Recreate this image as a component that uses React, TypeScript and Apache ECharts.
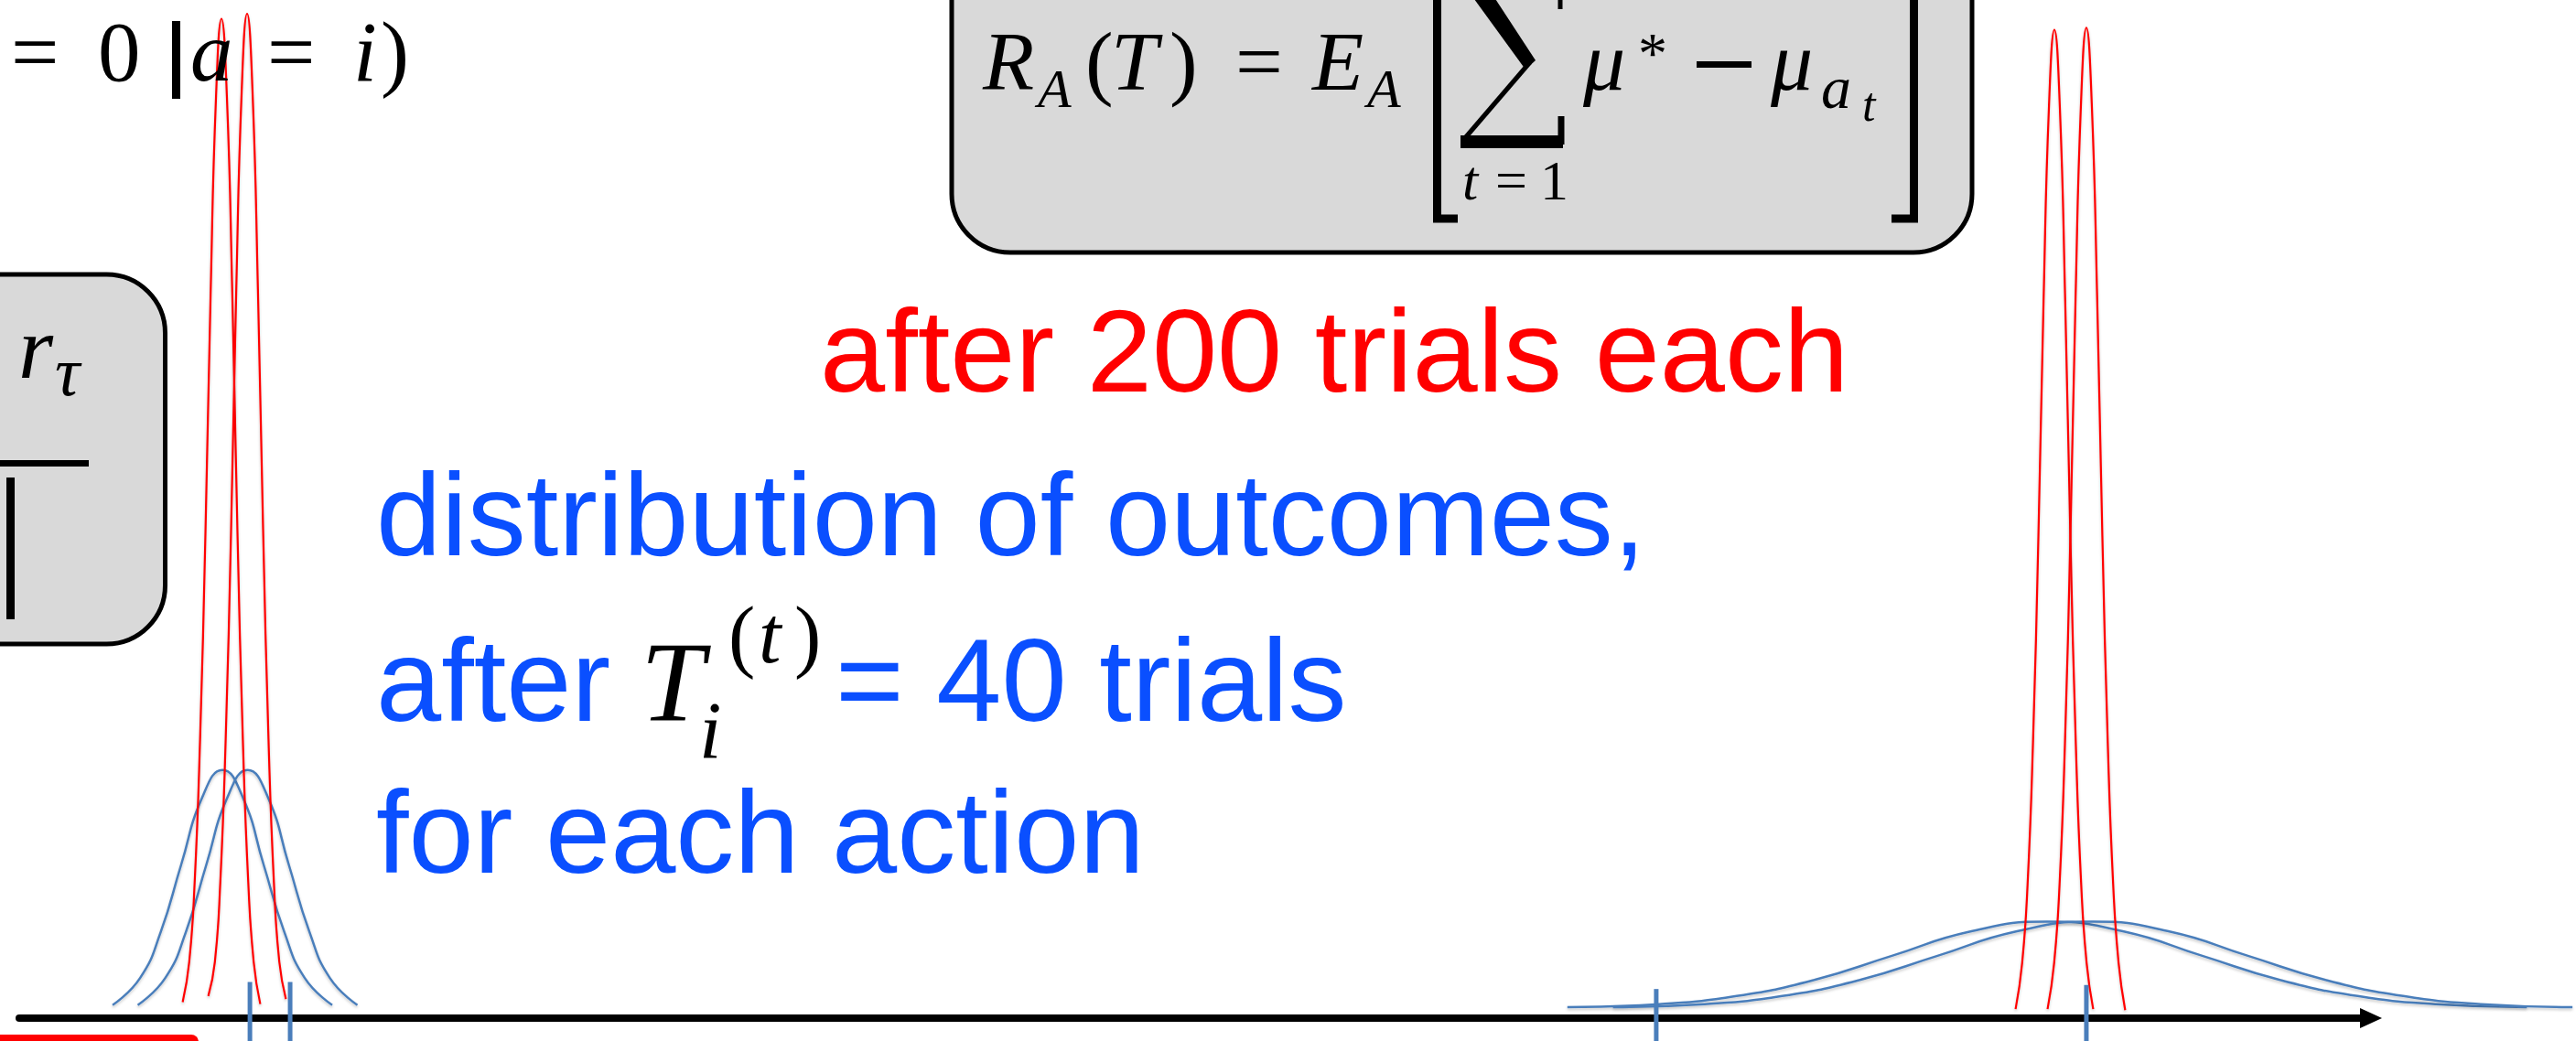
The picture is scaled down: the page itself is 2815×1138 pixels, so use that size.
import React, { useEffect, useRef } from "react";
import * as echarts from "echarts";

const WIDTH = 2815;
const HEIGHT = 1138;

// x: outcome scale (0..100 along the arrow), y: relative density (0..1)
// left pair, after 200 trials (red)
const redL1X = [6.95, 7.23, 7.46, 7.69, 7.92, 8.14, 8.37, 8.6, 8.83, 9.06, 9.28, 9.51, 9.74, 9.97, 10.25];
const redL1Y = [0.016, 0.056, 0.135, 0.277, 0.484, 0.722, 0.918, 0.995, 0.918, 0.722, 0.484, 0.277, 0.135, 0.056, 0.014];
const redL2X = [8.04, 8.32, 8.55, 8.78, 9.01, 9.23, 9.46, 9.69, 9.92, 10.15, 10.37, 10.6, 10.83, 11.06, 11.34];
const redL2Y = [0.022, 0.056, 0.135, 0.278, 0.487, 0.726, 0.923, 1.0, 0.923, 0.726, 0.487, 0.278, 0.135, 0.056, 0.019];
// right pair, after 200 trials (red)
const redR1X = [84.89, 85.17, 85.4, 85.63, 85.86, 86.08, 86.31, 86.54, 86.77, 87.0, 87.22, 87.45, 87.68, 87.91, 88.19];
const redR1Y = [0.009, 0.055, 0.133, 0.274, 0.479, 0.714, 0.908, 0.984, 0.908, 0.714, 0.479, 0.274, 0.133, 0.055, 0.009];
const redR2X = [86.25, 86.53, 86.76, 86.99, 87.22, 87.44, 87.67, 87.9, 88.13, 88.36, 88.58, 88.81, 89.04, 89.27, 89.55];
const redR2Y = [0.009, 0.055, 0.133, 0.274, 0.48, 0.716, 0.91, 0.986, 0.91, 0.716, 0.48, 0.274, 0.133, 0.055, 0.008];
// left pair, after 40 trials (blue)
const blueL1X = [3.97, 5.14, 6.02, 6.89, 7.77, 8.64, 9.52, 10.39, 11.27, 12.14, 13.31];
const blueL2X = [5.04, 6.21, 7.09, 7.96, 8.84, 9.71, 10.59, 11.46, 12.34, 13.21, 14.38];
const blueLY = [0.013, 0.04, 0.086, 0.153, 0.219, 0.247, 0.219, 0.153, 0.086, 0.04, 0.013];
// right pair, after 40 trials (blue)
const blueR1X = [65.83, 69.73, 73.03, 76.33, 79.63, 82.93, 86.23, 89.53, 92.83, 96.13, 99.43, 102.73, 106.63];
const blueR2X = [67.77, 71.67, 74.97, 78.27, 81.57, 84.87, 88.17, 91.47, 94.77, 98.07, 101.37, 104.67, 108.57];
const blueRY = [0.011, 0.014, 0.022, 0.038, 0.062, 0.086, 0.096, 0.086, 0.062, 0.038, 0.022, 0.014, 0.011];
// true means (blue ticks)
const tickX = [9.81, 11.52, 69.61, 87.9];
const tickTop = [0.036, 0.036, 0.029, 0.033];
const tickBottom = -0.04;

// axis: arrow runs over 0..100; the curves' grid extends further right
const arrowMax = 100;
const curvesMax = 108.72;

const redText = "after 200 trials each";
const blueLine1 = "distribution of outcomes,";
const blueLine2a = "after";
const blueLine2b = "= 40 trials";
const blueLine3 = "for each action";

const RED = "#ff0000";
const BLUE_CURVE = "#4a7ebb";
const BLUE_TEXT = "#0a4fff";
const BOX = "#d9d9d9";
const SANS = '"Liberation Sans", Arial, sans-serif';
const SERIF = '"Liberation Serif", "Times New Roman", serif';

type TOpt = { serif?: boolean; italic?: boolean; color?: string };
const txt = (text: string, x: number, baseline: number, size: number, o: TOpt = {}) => ({
  type: "text",
  x,
  y: baseline - size * (o.serif ? 0.3375 : 0.3465),
  z: 5,
  silent: true,
  style: {
    text,
    fill: o.color || "#000",
    fontSize: size,
    fontFamily: o.serif ? SERIF : SANS,
    fontStyle: o.italic ? "italic" : "normal",
    verticalAlign: "middle",
    align: "left",
  },
});
const m = (text: string, x: number, baseline: number, size: number, italic = true) =>
  txt(text, x, baseline, size, { serif: true, italic });
const rect = (x: number, y: number, w: number, h: number, extra: any = {}) => ({
  type: "rect",
  z: extra.z ?? 4,
  silent: true,
  shape: { x, y, width: w, height: h, r: extra.r ?? 0 },
  style: { fill: extra.fill ?? "#000", stroke: extra.stroke ?? null, lineWidth: extra.lineWidth ?? 0 },
});
const seg = (x1: number, y1: number, x2: number, y2: number, w: number) => ({
  type: "line",
  z: 5,
  silent: true,
  shape: { x1, y1, x2, y2 },
  style: { stroke: "#000", lineWidth: w, lineCap: "butt" },
});
const poly = (points: number[][], w: number) => ({
  type: "polyline",
  z: 5,
  silent: true,
  shape: { points },
  style: { stroke: "#000", lineWidth: w, fill: null, lineJoin: "miter", lineCap: "butt" },
});
const solid = (points: number[][]) => ({
  type: "polygon",
  z: 5,
  silent: true,
  shape: { points },
  style: { fill: "#000" },
});

const curve = (name: string, xs: number[], ys: number[], color: string, width: number) => ({
  type: "line",
  name,
  xAxisIndex: 0,
  yAxisIndex: 0,
  data: xs.map((x, i) => [x, ys[i]]),
  smooth: true,
  symbol: "none",
  clip: false,
  silent: true,
  z: 3,
  emphasis: { disabled: true },
  lineStyle: { color, width, shadowColor: "rgba(0,0,0,0.22)", shadowBlur: 3, shadowOffsetY: 2 },
});

const tickSeries = tickX.map((x, i) => ({
  type: "line",
  name: "mean" + i,
  xAxisIndex: 0,
  yAxisIndex: 0,
  data: [
    [x, tickBottom],
    [x, tickTop[i]],
  ],
  symbol: "none",
  clip: false,
  silent: true,
  z: 4,
  emphasis: { disabled: true },
  lineStyle: { color: BLUE_CURVE, width: 5 },
}));

const graphics: any[] = [
  // top-left formula fragment
  m("=", 12, 88, 93, false),
  m("0", 107, 88, 93, false),
  rect(188, 23, 9, 85, { z: 5 }),
  m("a", 208, 88, 93),
  m("=", 292, 88, 93, false),
  m("i", 386, 88, 93),
  m(")", 416, 88, 93, false),

  // left grey box
  rect(-200, 300, 380.5, 404, { fill: BOX, stroke: "#000", lineWidth: 5, r: 64, z: 2 }),
  m("r", 20, 413, 98),
  m("τ", 60, 432, 76),
  rect(-10, 503, 107, 7, { z: 5 }),
  rect(7, 522, 9, 155, { z: 5 }),

  // top grey box with regret formula
  rect(1040, -200, 1115, 476, { fill: BOX, stroke: "#000", lineWidth: 5, r: 64, z: 2 }),
  m("R", 1074, 98, 92),
  m("A", 1134, 117, 60),
  m("(", 1186, 98, 92, false),
  m("T", 1214, 98, 92),
  m(")", 1278, 98, 92, false),
  m("=", 1350, 98, 92, false),
  m("E", 1434, 98, 92),
  m("A", 1494, 117, 60),
  poly([[1593, 239], [1570.5, 239], [1570.5, -20]], 9),
  solid([[1603, -12], [1627, -12], [1678, 66], [1667, 76]]),
  seg(1672, 68, 1600, 152, 5),
  rect(1596, 148, 112, 14, { z: 5 }),
  seg(1706, 127, 1706, 158, 7),
  seg(1705, -30, 1705, 10, 5),
  m("t", 1598, 218, 62),
  m("=", 1634, 218, 62, false),
  m("1", 1683, 218, 62, false),
  m("μ", 1730, 98, 92),
  m("*", 1790, 80, 64, false),
  rect(1854, 67, 60, 7, { z: 5 }),
  m("μ", 1935, 98, 92),
  m("a", 1990, 118, 66),
  m("t", 2035, 132, 52),
  poly([[2067, 239], [2091.5, 239], [2091.5, -20]], 9),

  // red headline
  txt(redText, 896, 428, 128, { color: RED }),

  // blue paragraph
  txt(blueLine1, 411, 607, 128, { color: BLUE_TEXT }),
  txt(blueLine2a, 411, 788, 128, { color: BLUE_TEXT }),
  m("T", 700, 788, 125),
  m("i", 764, 828, 88),
  m("(", 796, 724, 88, false),
  m("t", 829, 724, 88),
  m(")", 868, 724, 88, false),
  txt(blueLine2b, 913, 788, 128, { color: BLUE_TEXT }),
  txt(blueLine3, 411, 954, 128, { color: BLUE_TEXT }),

  // red label box bottom-left
  rect(-20, 1131, 237, 40, { fill: RED, r: 8, z: 2 }),
];

const option: any = {
  animation: false,
  backgroundColor: "#ffffff",
  grid: [
    { left: 21, right: 0, top: 15, bottom: 25, containLabel: false },
    { left: 21, right: 224, top: 15, bottom: 25, containLabel: false },
  ],
  xAxis: [
    {
      type: "value",
      gridIndex: 0,
      min: 0,
      max: curvesMax,
      axisLine: { show: false },
      axisTick: { show: false },
      axisLabel: { show: false },
      splitLine: { show: false },
    },
    {
      type: "value",
      gridIndex: 1,
      min: 0,
      max: arrowMax,
      axisLine: {
        show: true,
        onZero: false,
        symbol: ["none", "triangle"],
        symbolSize: [22, 24],
        lineStyle: { color: "#000", width: 8 },
      },
      axisTick: { show: false },
      axisLabel: { show: false },
      splitLine: { show: false },
    },
  ],
  yAxis: [
    { type: "value", gridIndex: 0, min: 0, max: 1, show: false, splitLine: { show: false } },
    { type: "value", gridIndex: 1, min: 0, max: 1, show: false, splitLine: { show: false } },
  ],
  tooltip: { show: false },
  series: [
    curve("blue L1", blueL1X, blueLY, BLUE_CURVE, 2.5),
    curve("blue L2", blueL2X, blueLY, BLUE_CURVE, 2.5),
    curve("blue R1", blueR1X, blueRY, BLUE_CURVE, 2.5),
    curve("blue R2", blueR2X, blueRY, BLUE_CURVE, 2.5),
    curve("red L1", redL1X, redL1Y, RED, 2.2),
    curve("red L2", redL2X, redL2Y, RED, 2.2),
    curve("red R1", redR1X, redR1Y, RED, 2.2),
    curve("red R2", redR2X, redR2Y, RED, 2.2),
    ...tickSeries,
  ],
  graphic: { elements: graphics },
};

export default function App() {
  const ref = useRef<HTMLDivElement>(null);
  useEffect(() => {
    if (!ref.current) return;
    document.body.style.margin = "0";
    const chart = echarts.init(ref.current, null, { renderer: "svg", width: WIDTH, height: HEIGHT });
    chart.setOption(option);
    return () => chart.dispose();
  }, []);
  return (
    <div
      ref={ref}
      style={{ position: "absolute", left: 0, top: 0, width: WIDTH, height: HEIGHT, background: "#fff" }}
    />
  );
}
